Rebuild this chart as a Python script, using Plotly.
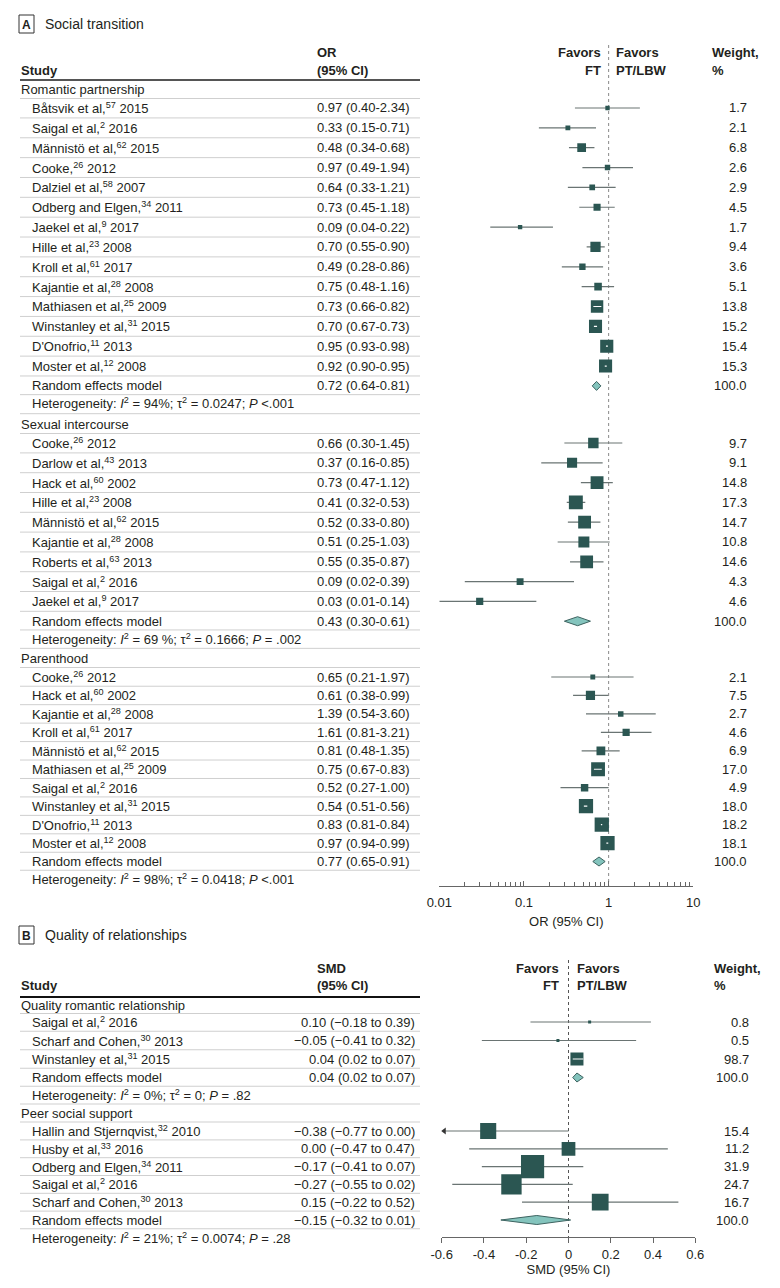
import math
import plotly.graph_objects as go

W, H = 780, 1288
FONT = "Liberation Sans"
TXT = "#231f20"
SQ = "#2b5652"
CIC = "#6a7473"
DIA_FILL = "#84c4bd"
DIA_LINE = "#3d6360"

# ---------------- Panel A: Social transition (OR) ----------------
rp_names = ["Båtsvik et al,<sup>57</sup> 2015", "Saigal et al,<sup>2</sup> 2016", "Männistö et al,<sup>62</sup> 2015",
            "Cooke,<sup>26</sup> 2012", "Dalziel et al,<sup>58</sup> 2007", "Odberg and Elgen,<sup>34</sup> 2011",
            "Jaekel et al,<sup>9</sup> 2017", "Hille et al,<sup>23</sup> 2008", "Kroll et al,<sup>61</sup> 2017",
            "Kajantie et al,<sup>28</sup> 2008", "Mathiasen et al,<sup>25</sup> 2009", "Winstanley et al,<sup>31</sup> 2015",
            "D'Onofrio,<sup>11</sup> 2013", "Moster et al,<sup>12</sup> 2008"]
rp_or = [0.97, 0.33, 0.48, 0.97, 0.64, 0.73, 0.09, 0.70, 0.49, 0.75, 0.73, 0.70, 0.95, 0.92]
rp_lo = [0.40, 0.15, 0.34, 0.49, 0.33, 0.45, 0.04, 0.55, 0.28, 0.48, 0.66, 0.67, 0.93, 0.90]
rp_hi = [2.34, 0.71, 0.68, 1.94, 1.21, 1.18, 0.22, 0.90, 0.86, 1.16, 0.82, 0.73, 0.98, 0.95]
rp_w = [1.7, 2.1, 6.8, 2.6, 2.9, 4.5, 1.7, 9.4, 3.6, 5.1, 13.8, 15.2, 15.4, 15.3]
rp_re = (0.72, 0.64, 0.81)
rp_het = "Heterogeneity: <i>I</i><sup>2</sup> = 94%; τ<sup>2</sup> = 0.0247; <i>P</i> <.001"

si_names = ["Cooke,<sup>26</sup> 2012", "Darlow et al,<sup>43</sup> 2013", "Hack et al,<sup>60</sup> 2002",
            "Hille et al,<sup>23</sup> 2008", "Männistö et al,<sup>62</sup> 2015", "Kajantie et al,<sup>28</sup> 2008",
            "Roberts et al,<sup>63</sup> 2013", "Saigal et al,<sup>2</sup> 2016", "Jaekel et al,<sup>9</sup> 2017"]
si_or = [0.66, 0.37, 0.73, 0.41, 0.52, 0.51, 0.55, 0.09, 0.03]
si_lo = [0.30, 0.16, 0.47, 0.32, 0.33, 0.25, 0.35, 0.02, 0.01]
si_hi = [1.45, 0.85, 1.12, 0.53, 0.80, 1.03, 0.87, 0.39, 0.14]
si_w = [9.7, 9.1, 14.8, 17.3, 14.7, 10.8, 14.6, 4.3, 4.6]
si_re = (0.43, 0.30, 0.61)
si_het = "Heterogeneity: <i>I</i><sup>2</sup> = 69 %; τ<sup>2</sup> = 0.1666; <i>P</i> = .002"

ph_names = ["Cooke,<sup>26</sup> 2012", "Hack et al,<sup>60</sup> 2002", "Kajantie et al,<sup>28</sup> 2008",
            "Kroll et al,<sup>61</sup> 2017", "Männistö et al,<sup>62</sup> 2015", "Mathiasen et al,<sup>25</sup> 2009",
            "Saigal et al,<sup>2</sup> 2016", "Winstanley et al,<sup>31</sup> 2015", "D'Onofrio,<sup>11</sup> 2013",
            "Moster et al,<sup>12</sup> 2008"]
ph_or = [0.65, 0.61, 1.39, 1.61, 0.81, 0.75, 0.52, 0.54, 0.83, 0.97]
ph_lo = [0.21, 0.38, 0.54, 0.81, 0.48, 0.67, 0.27, 0.51, 0.81, 0.94]
ph_hi = [1.97, 0.99, 3.60, 3.21, 1.35, 0.83, 1.00, 0.56, 0.84, 0.99]
ph_w = [2.1, 7.5, 2.7, 4.6, 6.9, 17.0, 4.9, 18.0, 18.2, 18.1]
ph_re = (0.77, 0.65, 0.91)
ph_het = "Heterogeneity: <i>I</i><sup>2</sup> = 98%; τ<sup>2</sup> = 0.0418; <i>P</i> <.001"

or_ticks = [0.01, 0.1, 1, 10]
or_ticktext = ["0.01", "0.1", "1", "10"]

# ---------------- Panel B: Quality of relationships (SMD) ----------------
qr_names = ["Saigal et al,<sup>2</sup> 2016", "Scharf and Cohen,<sup>30</sup> 2013", "Winstanley et al,<sup>31</sup> 2015"]
qr_smd = [0.10, -0.05, 0.04]
qr_lo = [-0.18, -0.41, 0.02]
qr_hi = [0.39, 0.32, 0.07]
qr_w = [0.8, 0.5, 98.7]
qr_re = (0.04, 0.02, 0.07)
qr_het = "Heterogeneity: <i>I</i><sup>2</sup> = 0%; τ<sup>2</sup> = 0; <i>P</i> = .82"

ps_names = ["Hallin and Stjernqvist,<sup>32</sup> 2010", "Husby et al,<sup>33</sup> 2016",
            "Odberg and Elgen,<sup>34</sup> 2011", "Saigal et al,<sup>2</sup> 2016", "Scharf and Cohen,<sup>30</sup> 2013"]
ps_smd = [-0.38, 0.00, -0.17, -0.27, 0.15]
ps_lo = [-0.77, -0.47, -0.41, -0.55, -0.22]
ps_hi = [0.00, 0.47, 0.07, 0.02, 0.52]
ps_w = [15.4, 11.2, 31.9, 24.7, 16.7]
ps_re = (-0.15, -0.32, 0.01)
ps_het = "Heterogeneity: <i>I</i><sup>2</sup> = 21%; τ<sup>2</sup> = 0.0074; <i>P</i> = .28"

smd_ticks = [-0.6, -0.4, -0.2, 0, 0.2, 0.4, 0.6]
smd_ticktext = ["-0.6", "-0.4", "-0.2", "0", "0.2", "0.4", "0.6"]

# ---------------- layout geometry (pixels) ----------------
A_X0, A_X1 = 439.3, 693.3
B_X0, B_X1 = 441.7, 695.3
A_AXIS_Y, B_AXIS_Y = 886, 1237
A_RANGE = [-2, 1]
B_RANGE = [-0.6, 0.6]

groupsA = [
    dict(label="Romantic partnership", names=rp_names, est=rp_or, lo=rp_lo, hi=rp_hi, w=rp_w, re=rp_re, het=rp_het,
         label_y=89, y0=108, step=19.85, scale=3.35),
    dict(label="Sexual intercourse", names=si_names, est=si_or, lo=si_lo, hi=si_hi, w=si_w, re=si_re, het=si_het,
         label_y=424, y0=443, step=19.8, scale=3.35),
    dict(label="Parenthood", names=ph_names, est=ph_or, lo=ph_lo, hi=ph_hi, w=ph_w, re=ph_re, het=ph_het,
         label_y=658, y0=677, step=18.45, scale=3.35),
]
groupsB = [
    dict(label="Quality romantic relationship", names=qr_names, est=qr_smd, lo=qr_lo, hi=qr_hi, w=qr_w, re=qr_re,
         het=qr_het, label_y=1005, y0=1022, step=18.5, scale=1.31),
    dict(label="Peer social support", names=ps_names, est=ps_smd, lo=ps_lo, hi=ps_hi, w=ps_w, re=ps_re,
         het=ps_het, label_y=1113, y0=1131, step=17.8, scale=4.1),
]


def fmt_or(e, l, h):
    return f"{e:.2f} ({l:.2f}-{h:.2f})"


def m(v):
    return f"{v:.2f}".replace("-", "\u2212")


def fmt_smd(e, l, h):
    return f"{m(e)} ({m(l)} to {m(h)})"


fig = go.Figure()
ann = []
shapes = []


def py(y):
    return 1 - y / H


def text(x, y, t, anchor="left", size=13, color=TXT):
    ann.append(dict(x=x / W, y=py(y), xref="paper", yref="paper", text=t, showarrow=False,
                    xanchor=anchor, yanchor="middle", borderpad=0,
                    font=dict(size=size, color=color, family=FONT)))


def hline(y, x0=20, x1=420, color="#cfcfcf", width=1):
    shapes.append(dict(type="line", xref="paper", yref="paper", x0=x0 / W, x1=x1 / W, y0=py(y), y1=py(y),
                       line=dict(color=color, width=width), layer="below"))


def panel(groups, xaxis, is_log, fmt, val_anchor, val_x, w_x, xr, xpx):
    ppu = (xpx[1] - xpx[0]) / (xr[1] - xr[0])
    tr = (lambda v: math.log10(v)) if is_log else (lambda v: v)
    ci_x, ci_y, wh_x, wh_y, sx, sy, ss = [], [], [], [], [], [], []
    arrows_x, arrows_y = [], []
    rows = []
    for g in groups:
        text(20, g["label_y"], g["label"])
        rows.append(g["label_y"])
        n = len(g["names"])
        for i in range(n):
            y = g["y0"] + i * g["step"]
            rows.append(y)
            e, l, h, w = g["est"][i], g["lo"][i], g["hi"][i], g["w"][i]
            text(31, y, g["names"][i])
            text(val_x, y, fmt(e, l, h), anchor=val_anchor)
            text(w_x, y, f"{w:.1f}", anchor="right")
            size = max(3, g["scale"] * math.sqrt(w))
            width_px = (tr(h) - tr(l)) * ppu
            lo_draw = l
            if not is_log and l < xr[0]:
                lo_draw = xr[0] + 0.012
                arrows_x.append(lo_draw)
                arrows_y.append(y)
            if width_px < size:
                wh_x += [lo_draw, h, None]
                wh_y += [y, y, None]
            else:
                ci_x += [lo_draw, h, None]
                ci_y += [y, y, None]
            sx.append(e)
            sy.append(y)
            ss.append(size)
        ry = g["y0"] + n * g["step"]
        rows.append(ry)
        e, l, h = g["re"]
        text(31, ry, "Random effects model")
        text(val_x, ry, fmt(e, l, h), anchor=val_anchor)
        text(w_x, ry, "100.0", anchor="right")
        fig.add_trace(go.Scatter(x=[l, e, h, e, l], y=[ry, ry - 4.5, ry, ry + 4.5, ry], mode="lines",
                                 fill="toself", fillcolor=DIA_FILL, line=dict(color=DIA_LINE, width=1),
                                 xaxis=xaxis, yaxis="y", hoverinfo="skip", showlegend=False))
        hy = ry + 17.5
        rows.append(hy)
        text(31, hy, g["het"])
    fig.add_trace(go.Scatter(x=ci_x, y=ci_y, mode="lines", line=dict(color=CIC, width=1.2), xaxis=xaxis, yaxis="y",
                             hoverinfo="skip", showlegend=False))
    fig.add_trace(go.Scatter(x=sx, y=sy, mode="markers",
                             marker=dict(symbol="square", size=ss, color=SQ, opacity=1, line=dict(width=0)),
                             xaxis=xaxis, yaxis="y", hoverinfo="skip", showlegend=False))
    fig.add_trace(go.Scatter(x=wh_x, y=wh_y, mode="lines", line=dict(color="white", width=1.2), xaxis=xaxis,
                             yaxis="y", hoverinfo="skip", showlegend=False))
    if arrows_x:
        fig.add_trace(go.Scatter(x=arrows_x, y=arrows_y, mode="markers",
                                 marker=dict(symbol="triangle-left", size=6, color="#333", opacity=1),
                                 xaxis=xaxis, yaxis="y", hoverinfo="skip", showlegend=False, cliponaxis=False))
    for a, b in zip(rows[:-1], rows[1:]):
        hline((a + b) / 2)


# ---------- Panel A headers ----------
shapes.append(dict(type="rect", xref="paper", yref="paper", x0=19 / W, x1=34 / W, y0=py(33), y1=py(15),
                   line=dict(color="#333", width=1)))
text(26.5, 24.5, "<b>A</b>", anchor="center", size=12)
text(44, 24, "Social transition", size=14)
text(316, 52, "<b>OR</b>")
text(316, 70, "<b>(95% CI)</b>")
text(20, 70, "<b>Study</b>")
text(602, 52, "<b>Favors</b>", anchor="right")
text(602, 70, "<b>FT</b>", anchor="right")
text(615, 52, "<b>Favors</b>")
text(615, 70, "<b>PT/LBW</b>")
text(711, 52, "<b>Weight,</b>")
text(711, 70, "<b>%</b>")
hline(80, color="#555", width=2)
shapes.append(dict(type="line", xref="x", yref="y", x0=1, x1=1, y0=45, y1=A_AXIS_Y, layer="below",
                   line=dict(color="#8a8a8a", width=1, dash="dot")))

panel(groupsA, "x", True, fmt_or, "left", 316, 748, A_RANGE, (A_X0, A_X1))

# ---------- Panel B headers ----------
shapes.append(dict(type="rect", xref="paper", yref="paper", x0=19 / W, x1=34 / W, y0=py(944), y1=py(926),
                   line=dict(color="#333", width=1)))
text(26.5, 935.5, "<b>B</b>", anchor="center", size=12)
text(44, 935, "Quality of relationships", size=14)
text(316, 968, "<b>SMD</b>")
text(316, 985, "<b>(95% CI)</b>")
text(20, 985, "<b>Study</b>")
text(560, 968, "<b>Favors</b>", anchor="right")
text(560, 985, "<b>FT</b>", anchor="right")
text(576, 968, "<b>Favors</b>")
text(576, 985, "<b>PT/LBW</b>")
text(713, 968, "<b>Weight,</b>")
text(713, 985, "<b>%</b>")
hline(997, color="#111", width=2)
shapes.append(dict(type="line", xref="x2", yref="y", x0=0, x1=0, y0=960, y1=B_AXIS_Y, layer="below",
                   line=dict(color="#555", width=1, dash="dot")))

panel(groupsB, "x2", False, fmt_smd, "right", 416, 750, B_RANGE, (B_X0, B_X1))

minor_vals = [k * 10 ** d for d in (-2, -1, 0) for k in range(2, 10)]

fig.update_layout(
    width=W, height=H, autosize=False,
    margin=dict(l=0, r=0, t=0, b=0, pad=0, autoexpand=False),
    paper_bgcolor="white", plot_bgcolor="rgba(0,0,0,0)",
    font=dict(family=FONT, size=13, color=TXT),
    annotations=ann, shapes=shapes, showlegend=False,
    yaxis=dict(range=[H, 0], domain=[0, 1], visible=False, fixedrange=True, automargin=False),
    xaxis=dict(type="log", range=A_RANGE, domain=[A_X0 / W, A_X1 / W], anchor="free", position=py(A_AXIS_Y),
               automargin=False, showgrid=False, zeroline=False, showline=True, linecolor="#666", linewidth=1,
               tickmode="array", tickvals=or_ticks, ticktext=or_ticktext, ticks="inside", ticklen=5,
               tickcolor="#666", tickfont=dict(size=13, color=TXT, family=FONT), ticklabelstandoff=4,
               minor=dict(tickmode="array", tickvals=minor_vals, ticks="inside", ticklen=4, tickcolor="#666",
                          showgrid=False),
               title=dict(text="OR (95% CI)", font=dict(size=13, color=TXT, family=FONT), standoff=8)),
    xaxis2=dict(range=B_RANGE, domain=[B_X0 / W, B_X1 / W], anchor="free", position=py(B_AXIS_Y),
                automargin=False, showgrid=False, zeroline=False, showline=True, linecolor="#666", linewidth=1,
                tickmode="array", tickvals=smd_ticks, ticktext=smd_ticktext, ticks="outside", ticklen=5,
                tickcolor="#666", tickfont=dict(size=13, color=TXT, family=FONT),
                title=dict(text="SMD (95% CI)", font=dict(size=13, color=TXT, family=FONT), standoff=4)),
)

fig.write_html("out.html", config={"displayModeBar": False},
               post_script="document.body.style.margin='0';")
